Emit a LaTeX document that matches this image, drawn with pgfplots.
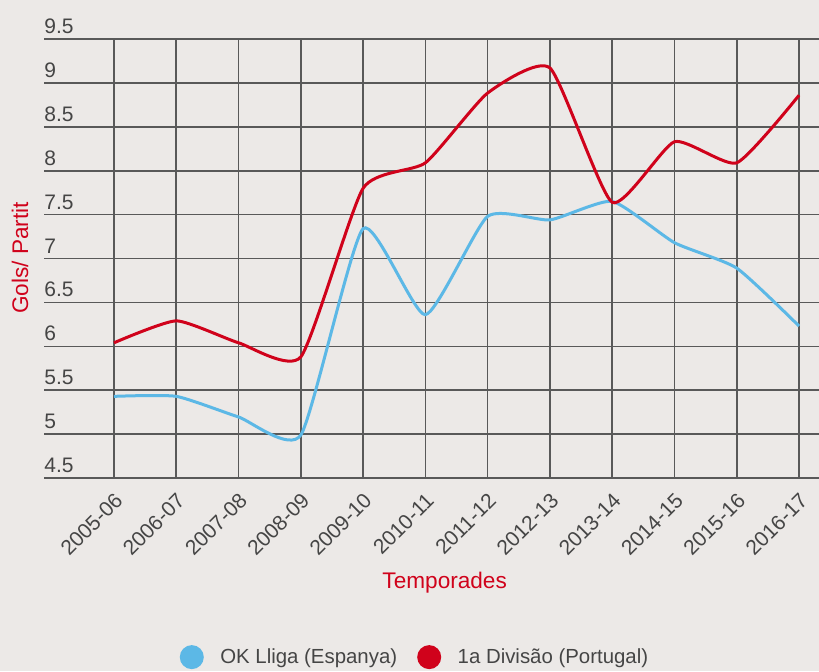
\documentclass[border=0pt]{standalone}
\usepackage{pgfplots}
\pgfplotsset{compat=1.18}
\usepackage{fontspec}
\setmainfont{Liberation Sans}
\definecolor{bg}{HTML}{ECE9E7}
\definecolor{tickc}{HTML}{454545}
\definecolor{lblred}{HTML}{D0021B}
\definecolor{lineblue}{HTML}{5CB8E6}
\definecolor{linered}{HTML}{D0021B}
\begin{document}
\begin{tikzpicture}
\fill[bg] (-22pt,-96.5pt) rectangle (387.5pt,239pt);
\begin{axis}[
  scale only axis,
  width=387.5pt, height=219.5pt,
  xmin=-1.124, xmax=11.32,
  ymin=4.5, ymax=9.5,
  xtick={0,...,11},
  xticklabels={2005-06,2006-07,2007-08,2008-09,2009-10,2010-11,2011-12,2012-13,2013-14,2014-15,2015-16,2016-17},
  ytick={4.5,5,5.5,6,6.5,7,7.5,8,8.5,9,9.5},
  /pgf/number format/assume math mode=true,
  grid=major,
  major grid style={draw=black!65, line width=0.8pt},
  axis line style={draw=none},
  tick style={draw=none},
  major tick length=0pt,
  ticklabel style={font=\fontsize{10.5}{12}\selectfont, text=tickc},
  yticklabel style={anchor=south west, inner sep=0pt, yshift=2.5pt},
  xticklabel style={xshift=2.5pt, yshift=-9.5pt, rotate=45, anchor=east, inner sep=0pt},
  xlabel={Temporades},
  ylabel={Gols/ Partit},
  label style={font=\fontsize{11.3}{13}\selectfont, text=lblred},
  xlabel style={at={(axis description cs:0.517,-0.239)}, anchor=center},
  ylabel style={at={(axis description cs:-0.031,0.501)}, anchor=center, rotate=0},
  legend columns=2,
  legend style={at={(axis description cs:0.480,-0.408)}, anchor=center, draw=none, fill=none,
    font=\fontsize{10.2}{12}\selectfont, text=tickc,
    /tikz/every even column/.append style={column sep=8pt}},
  legend image code/.code={\fill[#1, draw=none] (6pt,0pt) circle (6pt); \path (17.5pt,0pt);},
  legend cell align=left,
]
\addplot[lineblue, line width=1.5pt, smooth, tension=0.33] coordinates {
 (0,5.43) (1,5.43) (2,5.195) (3,4.99) (4,7.34) (5,6.36) (6,7.48) (7,7.44) (8,7.65) (9,7.18) (10,6.89) (11,6.23)};
\addlegendentry{OK Lliga (Espanya)}
\addplot[linered, line width=1.5pt, smooth, tension=0.33] coordinates {
 (0,6.04) (1,6.29) (2,6.04) (3,5.88) (4,7.80) (5,8.09) (6,8.885) (7,9.17) (8,7.64) (9,8.33) (10,8.09) (11,8.86)};
\addlegendentry{1a Divisão (Portugal)}
\end{axis}
\pgfresetboundingbox
\path (-22pt,-96.5pt) rectangle (387.5pt,239pt);
\end{tikzpicture}
\end{document}
